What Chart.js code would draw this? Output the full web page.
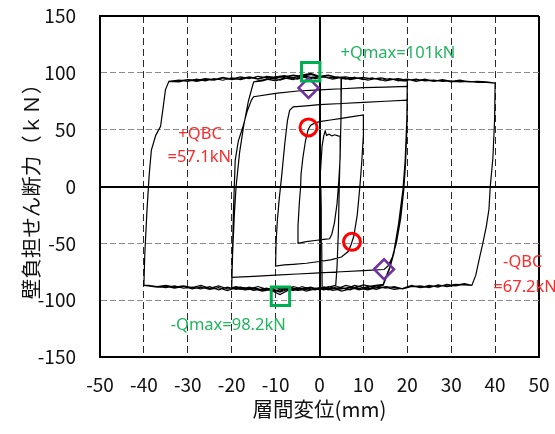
<!DOCTYPE html>
<html>
<head>
<meta charset="utf-8">
<script src="https://cdn.jsdelivr.net/npm/chart.js@4"></script>
<style>
  html, body { margin: 0; padding: 0; background: #fff; }
</style>
</head>
<body>
<canvas id="grafico" width="555" height="434"></canvas>
<script>
// primer ciclo (+-5) y subida a +10
const loop5X = [0, 0.3, 0.6, 1.0, 1.3, 1.6, 2.2, 2.8, 3.5, 4.2, 4.8, 4.7, 4.4, 4.0, 3.4, 2.8, 2.3, 1.0, -1.0, -3.0, -5.0, -4.9, -4.6, -4.3, -4.2, -3.8, -3.2, -2.6, -2.0, -1.0, 0, 2.5, 5.0, 7.5, 10.0];
const loop5Y = [0, 18, 36, 45, 49, 45, 46, 44.5, 45.5, 44.5, 44, 25, 5, -15, -32, -42, -46, -46.5, -47.5, -48.5, -50, -35, -15, 0, 11, 25, 40, 50, 54, 56, 57, 58.5, 60, 61.5, 63];

// ciclo +-10
const loop10X = [10.0, 10.0, 9.6, 9.2, 8.6, 7.8, 7.2, 6.6, 5.0, 2.5, 0, -3, -6, -8, -10, -9.9, -9.6, -9.2, -8.6, -7.9, -7.3, -6.8, -6.0, -3.0, 0, 5, 10, 15, 20];
const loop10Y = [63, 45, 20, 0, -25, -44, -51, -57, -62, -64.5, -66, -67.5, -68.5, -69, -70, -50, -30, -12, 10, 38, 58, 67, 70, 71, 72, 73, 74, 75, 76];

// primer ciclo +-20
const loop20aX = [20, 19.9, 19.6, 19.2, 18.5, 17.5, 16.6, 15.6, 14.7, 10, 5, 0, -5, -10, -15, -20, -19.8, -19.6, -19.2, -18.5, -17.4, -16.5, -15.5, -15.0, -10, -5, 0, 5, 10, 15, 20];
const loop20aY = [76, 50, 20, -3, -28, -50, -62, -70, -73, -74, -75, -76, -77, -78, -79, -80, -55, -21, 23, 40, 53, 66, 76, 79, 82, 84, 85, 86, 87, 87.5, 88];

// ciclos +-20 siguientes
const dropX20 = [20, 19.9, 19.5, 19.0, 18.0, 17.0, 16.0, 15.0, 14.5];
const dropY20b = [88, 55, 20, -5, -35, -58, -72, -82, -87];
const dropY20c = [93, 60, 22, -3, -33, -56, -71, -81, -86];
const lowX20 = [12, 10, 8, 6, 4, 2, 0, -2, -4, -6, -8, -10, -12, -14, -16, -18];
const low20b = [-88, -86.5, -89, -87, -90, -88, -91, -88.5, -90, -88, -91, -89, -90.5, -88, -90, -88.5];
const low20c = [-87.5, -89, -87, -90, -88, -91, -89, -90.5, -88, -91.5, -89, -92, -89.5, -91, -88.5, -90.5];
const riseX20 = [-20, -19.8, -19.4, -19.0, -18.2, -17.2, -16.2, -15.3, -15.0];
const riseY20 = [-89, -60, -25, 0, 30, 55, 75, 88, 92];
const highX20 = [-13, -11, -9, -7, -5, -3, -1, 1, 3, 5, 7, 9, 11, 13, 15, 17, 19, 20];
const high20b = [93, 95, 93.5, 96, 94.5, 97, 95, 96.5, 94.5, 96, 94, 95.5, 93.5, 95, 93, 94.5, 93, 93];
const highX20c = [-14, -12, -10, -8, -6, -4, -2, 0, 2, 4, 6, 8, 10, 12, 14, 16, 18, 20, 22, 24, 26, 28, 30, 32, 34, 36, 38, 40];
const high20c = [93, 94.5, 93, 95.5, 94, 96.5, 95, 97, 95.5, 96, 94.5, 96, 94, 95.5, 93.5, 95, 93.5, 94.5, 93, 94.5, 92.5, 94, 92.5, 93.5, 92, 92.5, 92, 91];

// ciclos +-40
const dropX40 = [40, 39.9, 39.5, 38.9, 38.6, 38.0, 37.2, 36.5, 35.6, 34.7];
const dropY40 = [91, 60, 25, 0, -20, -35, -50, -62, -78, -87];
const lowX40 = [33, 31, 29, 27, 25, 23, 21, 19, 17, 15, 13, 11, 9, 7, 5, 3, 1, -1, -3, -5, -7, -9, -11, -13, -15, -17, -19, -21, -23, -25, -27, -29, -31, -33, -35, -37, -39];
const low40a = [-86, -87.5, -86, -88.5, -87, -89, -87.5, -90, -88, -89.5, -87.5, -90.5, -88, -91, -89, -90, -88.5, -91, -89, -90.5, -88.5, -92, -90, -91, -89, -90.5, -88, -90, -87.5, -89.5, -87, -89, -87.5, -88.5, -87, -88, -87];
const low40b = [-85.5, -87, -88, -86.5, -89, -87.5, -88, -90, -89, -88, -90.5, -89, -91, -88.5, -90, -91.5, -89, -90, -92, -89.5, -91, -95, -91.5, -90, -91.5, -89, -90.5, -88.5, -91, -88, -90, -88.5, -89.5, -87.5, -89, -88, -87.5];
const low40c = [-86.5, -86, -87.5, -87, -88, -89, -87, -89.5, -90.5, -88.5, -89, -91, -89.5, -90, -92, -89, -91, -89.5, -90.5, -91.5, -90, -93, -90.5, -92, -90, -91, -89, -91.5, -89, -90.5, -88.5, -90, -88, -89.5, -88, -88.5, -87.5];
const riseX40 = [-40, -39.8, -39.3, -38.8, -38.3, -37.3, -36.2, -35.6, -35.1, -34.3];
const riseY40 = [-87, -60, -21, 10, 32, 45, 53, 70, 85, 92.5];
const highX40 = [-32, -30, -28, -26, -24, -22, -20, -18, -16, -14, -12, -10, -8, -6, -4, -2, 0, 2, 4, 6, 8, 10, 12, 14, 16, 18, 20, 22, 24, 26, 28, 30, 32, 34, 36, 38, 40];
const high40a = [93.5, 92.5, 94.5, 93, 95, 93.5, 95.5, 94, 96, 94.5, 96.5, 95, 97, 95.5, 97.5, 96, 97, 95.5, 96.5, 95, 96, 94, 95.5, 93.5, 95, 93, 94.5, 92.5, 94, 92.5, 93.5, 92, 93, 92, 92.5, 92, 91];
const high40b = [92, 94, 93.5, 95, 94, 96, 94.5, 96.5, 95, 97, 95.5, 96.5, 97.5, 96, 98, 99.5, 97, 98, 96, 96.5, 95, 96, 94.5, 95.5, 94, 95, 93.5, 94.5, 93, 93.5, 92.5, 93, 92, 92.5, 91.5, 91.5, 91];
const highX40c = [-32, -30, -28, -26, -24, -22, -20, -18, -16, -14, -12, -10, -8, -6, -4, -2, 0, 2, 4, 5];
const high40c = [93, 94, 92.5, 94, 93.5, 95.5, 94, 95, 96.5, 95, 97, 96, 96.5, 98, 97, 98.5, 96.5, 97.5, 96, 95];

// descarga final
const finalX = [4.9, 4.7, 4.5, 4.3, 4.0, 3.7, 2.0, 0.6, 0.5, 0.4, 0.3];
const finalY = [60, 30, 0, -40, -70, -87, -88.5, -89, -50, -20, 0];

// puntos caracteristicos
const qmaxX = [-2, -8.9];
const qmaxY = [101, -96.5];
const qbcX = [-2.5, 7.4];
const qbcY = [52, -48.7];
const rombX = [-2.5, 14.7];
const rombY = [86.7, -72.8];

const puntos = (xs, ys) => xs.map((v, i) => ({ x: v, y: ys[i] }));

const curva = [].concat(
    puntos(loop5X, loop5Y),
    puntos(loop10X, loop10Y),
    puntos(loop20aX, loop20aY),
    puntos(dropX20, dropY20b), puntos(lowX20, low20b), puntos(riseX20, riseY20), puntos(highX20, high20b),
    puntos(dropX20, dropY20c), puntos(lowX20, low20c), puntos(riseX20, riseY20), puntos(highX20c, high20c),
    puntos(dropX40, dropY40), puntos(lowX40, low40a), puntos(riseX40, riseY40), puntos(highX40, high40a),
    puntos(dropX40, dropY40), puntos(lowX40, low40b), puntos(riseX40, riseY40), puntos(highX40, high40b),
    puntos(dropX40, dropY40), puntos(lowX40, low40c), puntos(riseX40, riseY40), puntos(highX40c, high40c),
    puntos(finalX, finalY)
);

const FUENTE = "'Noto Sans CJK JP', 'Noto Sans', sans-serif";
Chart.defaults.font.family = FUENTE;
Chart.defaults.color = '#111';

// textos de anotacion
const etiquetas = {
    id: 'etiquetas',
    afterDatasetsDraw(chart) {
        const { ctx, scales: { x, y } } = chart;
        ctx.save();
        ctx.font = "16.5px 'Noto Sans', sans-serif";
        ctx.textBaseline = 'middle';
        const poner = (t, vx, vy, align, color) => {
            ctx.textAlign = align;
            ctx.fillStyle = color;
            ctx.fillText(t, x.getPixelForValue(vx), y.getPixelForValue(vy));
        };
        poner('+Qmax=101kN', 4.8, 117.6, 'left', '#22b45e');
        poner('-Qmax=98.2kN', -33.9, -122, 'left', '#22b45e');
        poner('+QBC', -27.2, 46.3, 'center', '#ff2a2a');
        poner('=57.1kN', -27.4, 26, 'center', '#ff2a2a');
        poner('-QBC', 46.3, -67, 'center', '#ff2a2a');
        poner('=67.2kN', 39.6, -88.5, 'left', '#ff2a2a');
        ctx.restore();
    }
};

const solidoY = [-150, 0, 150];
const solidoX = [-50, 0, 50];

new Chart(document.getElementById('grafico'), {
    type: 'scatter',
    data: {
        datasets: [
            {
                data: puntos(qmaxX, qmaxY),
                pointStyle: 'rect', pointRadius: 13, pointBorderWidth: 3,
                pointBorderColor: '#00b050', pointBackgroundColor: 'rgba(0,0,0,0)'
            },
            {
                data: puntos(rombX, rombY),
                pointStyle: 'rectRot', pointRadius: 10, pointBorderWidth: 2.5,
                pointBorderColor: '#7030a0', pointBackgroundColor: 'rgba(0,0,0,0)'
            },
            {
                data: puntos(qbcX, qbcY),
                pointStyle: 'circle', pointRadius: 8.5, pointBorderWidth: 3,
                pointBorderColor: '#ff0000', pointBackgroundColor: 'rgba(0,0,0,0)'
            },
            {
                data: curva,
                showLine: true, borderColor: '#000', borderWidth: 1.2,
                pointRadius: 0, tension: 0
            }
        ]
    },
    options: {
        responsive: false,
        animation: false,
        devicePixelRatio: 1,
        layout: { padding: { top: 16, right: 12, left: 0, bottom: 0 } },
        plugins: { legend: { display: false }, tooltip: { enabled: false } },
        scales: {
            x: {
                type: 'linear', min: -50, max: 50,
                ticks: { stepSize: 10, padding: 16, font: { size: 19 }, maxRotation: 0, autoSkip: false },
                grid: {
                    drawTicks: false,
                    color: c => (c.tick && solidoX.includes(c.tick.value)) ? '#000' : '#2a2a2a',
                    lineWidth: c => (c.tick && solidoX.includes(c.tick.value)) ? 2 : 1
                },
                border: {
                    display: true, color: '#000', width: 2,
                    dash: c => (c.tick && !solidoX.includes(c.tick.value)) ? [7, 4] : []
                },
                title: { display: true, text: '層間変位(mm)', font: { size: 20.5 }, padding: { top: 0, bottom: 12 } },
                afterFit: s => { s.height = 77; s.paddingLeft = 0; s.paddingRight = 0; }
            },
            y: {
                type: 'linear', min: -150, max: 150,
                ticks: { stepSize: 50, padding: 24, font: { size: 19 } },
                grid: {
                    drawTicks: false,
                    color: c => (c.tick && solidoY.includes(c.tick.value)) ? '#000' : '#8c8c8c',
                    lineWidth: c => (c.tick && solidoY.includes(c.tick.value)) ? 2 : 1
                },
                border: {
                    display: true, color: '#000', width: 2,
                    dash: c => (c.tick && !solidoY.includes(c.tick.value)) ? [6, 3] : []
                },
                title: { display: true, text: '壁負担せん断力（ｋＮ）', font: { size: 20.5 }, padding: { top: 19, bottom: 0 } },
                afterFit: s => { s.width = 100; s.paddingTop = 0; s.paddingBottom = 0; }
            }
        }
    },
    plugins: [etiquetas]
});
</script>
</body>
</html>
